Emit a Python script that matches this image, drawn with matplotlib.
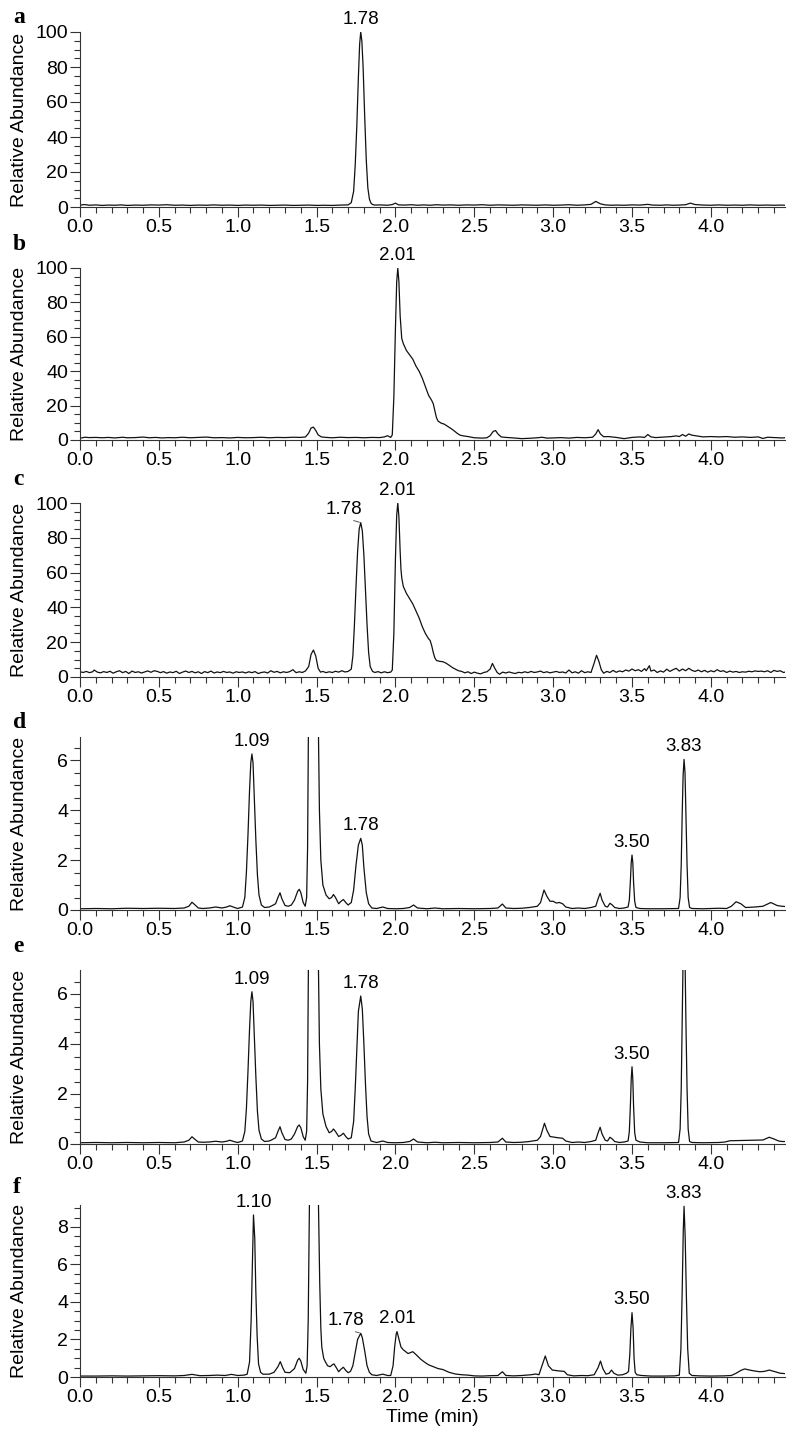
import matplotlib
matplotlib.use("Agg")
import matplotlib.pyplot as plt
from matplotlib.ticker import MultipleLocator, FormatStrFormatter

plt.rcParams['font.family'] = ['Liberation Sans', 'DejaVu Sans']

# ---------------- data (time in min, relative abundance) ----------------
PANEL_LETTERS = ['a', 'b', 'c', 'd', 'e', 'f']

A_PTS = [(0.00,1.1),(0.03,1.4),(0.06,1.0),(0.10,1.2),(0.14,0.9),(0.18,1.1),(0.22,1.0),(0.26,1.2),
         (0.30,0.9),(0.35,1.1),(0.40,1.0),(0.45,1.2),(0.50,1.1),(0.55,1.3),(0.60,1.0),(0.65,1.1),
         (0.70,0.9),(0.75,1.1),(0.80,1.0),(0.85,1.2),(0.90,1.0),(0.95,1.1),(1.00,0.9),(1.05,1.1),
         (1.10,1.0),(1.15,1.1),(1.20,0.9),(1.25,1.0),(1.30,1.1),(1.35,0.9),(1.40,1.0),(1.45,1.1),
         (1.50,0.9),(1.55,1.0),(1.60,0.9),(1.65,1.1),(1.70,1.2),(1.72,2.5),(1.735,9),(1.745,24),
         (1.755,46),(1.765,74),(1.773,93),(1.78,100),(1.787,95),(1.795,80),(1.805,52),(1.815,27),
         (1.825,11),(1.835,4.5),(1.845,2.2),(1.855,1.4),(1.87,1.1),(1.90,1.2),(1.95,1.0),(1.98,1.4),
         (2.00,2.2),(2.02,1.2),(2.06,1.1),(2.10,1.3),(2.14,1.0),(2.18,1.2),(2.22,1.0),(2.26,1.3),
         (2.30,1.1),(2.35,1.2),(2.40,1.0),(2.45,1.2),(2.50,1.1),(2.55,1.3),(2.60,1.0),(2.65,1.2),
         (2.70,1.1),(2.75,1.0),(2.80,1.2),(2.85,1.1),(2.90,1.0),(2.95,1.2),(3.00,1.0),(3.05,1.1),
         (3.10,1.3),(3.15,1.0),(3.20,1.2),(3.24,1.5),(3.27,3.2),(3.30,1.8),(3.33,1.2),(3.37,1.0),
         (3.40,1.1),(3.45,1.0),(3.50,1.2),(3.55,1.1),(3.60,1.5),(3.63,1.1),(3.68,1.0),(3.72,1.2),
         (3.76,1.0),(3.80,1.1),(3.84,1.3),(3.87,2.2),(3.90,1.4),(3.95,1.1),(4.00,1.0),(4.05,1.2),
         (4.10,1.0),(4.15,1.1),(4.20,1.0),(4.25,1.2),(4.30,1.0),(4.35,1.1),(4.40,1.0),(4.45,1.1),
         (4.47,1.0)]

B_PTS = [(0.00,1.0),(0.03,1.6),(0.06,1.4),(0.10,1.5),(0.14,1.3),(0.18,1.5),(0.22,1.2),(0.27,1.6),
         (0.30,1.3),(0.35,1.4),(0.40,1.7),(0.44,1.3),(0.48,1.5),(0.52,1.2),(0.56,1.4),(0.60,1.3),
         (0.65,1.6),(0.70,1.3),(0.75,1.5),(0.80,1.7),(0.85,1.3),(0.90,1.4),(0.95,1.2),(1.00,1.5),
         (1.05,1.3),(1.10,1.4),(1.15,1.6),(1.20,1.3),(1.25,1.5),(1.30,1.4),(1.35,1.6),(1.40,1.5),
         (1.43,1.8),(1.45,4.0),(1.465,7.0),(1.48,7.5),(1.495,5.5),(1.51,3.0),(1.53,1.8),(1.56,1.5),
         (1.60,1.3),(1.65,1.6),(1.70,1.4),(1.75,1.5),(1.80,1.3),(1.85,1.5),(1.90,1.4),(1.93,1.8),
         (1.95,2.5),(1.97,1.5),(1.98,3.0),(1.99,25),(2.00,65),(2.008,92),(2.015,100),(2.022,92),
         (2.03,72),(2.04,59),(2.05,56),(2.07,52),(2.09,49.5),(2.11,47),(2.13,43),(2.15,40),
         (2.17,36),(2.19,31),(2.21,26),(2.23,23),(2.24,21),(2.25,17),(2.26,13),(2.27,11),
         (2.29,9.8),(2.31,9.2),(2.33,8.0),(2.35,6.8),(2.37,5.5),(2.39,4.0),(2.41,2.8),(2.43,2.4),
         (2.46,2.0),(2.50,1.3),(2.55,1.1),(2.58,1.3),(2.60,2.5),(2.62,5.0),(2.635,5.5),(2.65,3.5),
         (2.67,1.8),(2.70,1.5),(2.75,1.2),(2.80,0.8),(2.85,1.0),(2.90,1.3),(2.93,1.6),(2.96,1.1),
         (3.00,1.2),(3.05,1.4),(3.10,1.1),(3.15,1.5),(3.20,1.3),(3.25,1.6),(3.27,3.5),(3.285,6.0),
         (3.30,3.5),(3.32,1.9),(3.35,2.0),(3.40,1.5),(3.45,0.8),(3.50,1.5),(3.55,1.8),(3.58,1.5),
         (3.60,3.2),(3.62,1.8),(3.65,1.4),(3.70,1.7),(3.75,2.0),(3.78,2.4),(3.80,2.0),(3.82,3.2),
         (3.84,2.2),(3.86,3.5),(3.88,2.8),(3.92,2.2),(3.95,1.8),(4.00,2.0),(4.05,1.8),(4.10,2.0),
         (4.15,1.6),(4.20,1.8),(4.25,1.5),(4.30,1.8),(4.33,0.9),(4.36,1.6),(4.40,1.4),(4.45,1.2),
         (4.47,1.3)]

C_PTS = [(0.00,3.0),(0.02,2.6),(0.04,3.2),(0.06,2.5),(0.08,3.0),(0.09,4.0),(0.11,2.8),(0.13,2.4),
         (0.15,3.1),(0.17,2.6),(0.19,3.3),(0.21,2.2),(0.23,3.0),(0.25,3.6),(0.27,2.5),(0.29,3.2),
         (0.31,2.0),(0.33,3.4),(0.35,2.6),(0.37,3.0),(0.39,2.3),(0.41,2.9),(0.43,3.5),(0.45,2.7),
         (0.47,3.6),(0.49,3.2),(0.51,2.5),(0.53,3.1),(0.55,2.2),(0.57,2.9),(0.59,2.5),(0.61,3.3),
         (0.63,2.0),(0.65,2.8),(0.67,3.4),(0.69,2.6),(0.71,3.2),(0.73,2.4),(0.75,3.0),(0.77,2.0),
         (0.79,3.1),(0.81,2.5),(0.83,3.4),(0.85,2.3),(0.87,2.9),(0.89,2.5),(0.91,3.2),(0.93,2.6),
         (0.95,2.9),(0.97,2.2),(0.99,3.0),(1.01,2.6),(1.03,2.9),(1.05,2.3),(1.07,3.0),(1.09,2.5),
         (1.11,3.1),(1.13,2.0),(1.15,2.6),(1.17,2.9),(1.19,2.3),(1.21,3.6),(1.23,2.7),(1.25,3.2),
         (1.27,2.4),(1.29,3.0),(1.31,2.6),(1.33,3.1),(1.35,4.2),(1.37,2.5),(1.39,3.0),(1.41,2.6),
         (1.43,3.5),(1.45,6.0),(1.465,13),(1.48,15.5),(1.495,12),(1.51,5.0),(1.525,2.8),(1.54,3.2),
         (1.56,2.5),(1.58,3.0),(1.60,2.6),(1.62,3.3),(1.64,2.8),(1.66,3.6),(1.68,2.9),(1.70,3.2),
         (1.72,4.5),(1.73,12),(1.74,30),(1.75,52),(1.76,72),(1.77,85),(1.78,88.7),(1.79,84),
         (1.80,70),(1.81,50),(1.82,30),(1.83,14),(1.84,6),(1.855,3.2),(1.87,2.6),(1.89,3.1),
         (1.91,2.4),(1.93,3.0),(1.95,2.5),(1.97,2.8),(1.98,4.0),(1.99,25),(2.00,68),(2.008,93),
         (2.015,100),(2.022,92),(2.03,72),(2.035,62),(2.04,57),(2.05,52),(2.07,48),(2.09,45),
         (2.11,42),(2.13,38),(2.15,34),(2.17,29),(2.19,25),(2.21,22),(2.22,21),(2.23,18),
         (2.24,14),(2.25,11),(2.26,9.5),(2.28,9.0),(2.30,8.8),(2.32,8.0),(2.34,6.8),(2.36,5.5),
         (2.38,4.5),(2.40,3.6),(2.42,3.2),(2.44,2.4),(2.46,3.0),(2.48,2.0),(2.50,2.8),(2.52,2.2),
         (2.54,1.8),(2.56,2.6),(2.58,3.0),(2.60,4.5),(2.615,7.8),(2.63,5.0),(2.645,2.6),(2.66,1.6),
         (2.68,2.8),(2.70,2.3),(2.72,2.9),(2.74,2.4),(2.76,2.0),(2.78,2.7),(2.80,2.4),(2.82,3.0),
         (2.84,2.5),(2.86,3.2),(2.88,2.6),(2.90,2.9),(2.92,3.4),(2.94,2.5),(2.96,3.0),(2.98,2.4),
         (3.00,2.8),(3.02,3.2),(3.04,2.6),(3.06,2.9),(3.08,2.3),(3.10,4.0),(3.12,2.4),(3.14,3.0),
         (3.16,2.2),(3.18,3.6),(3.20,2.5),(3.22,3.0),(3.24,2.6),(3.26,8.0),(3.275,12.5),(3.29,9.0),
         (3.305,4.2),(3.32,2.2),(3.34,3.2),(3.36,2.6),(3.38,3.8),(3.40,2.7),(3.42,3.5),(3.44,3.0),
         (3.46,4.0),(3.48,3.4),(3.50,4.6),(3.52,3.6),(3.54,4.2),(3.56,3.2),(3.58,4.8),(3.59,3.6),
         (3.61,6.5),(3.62,3.4),(3.64,4.0),(3.66,2.6),(3.68,3.5),(3.70,2.8),(3.72,4.5),(3.74,3.2),
         (3.76,4.2),(3.78,5.0),(3.80,3.4),(3.82,4.6),(3.84,3.6),(3.86,5.0),(3.88,3.8),(3.90,3.2),
         (3.92,4.0),(3.94,3.0),(3.96,3.8),(3.98,2.8),(4.00,3.6),(4.02,3.0),(4.04,4.2),(4.06,3.2),
         (4.08,3.6),(4.10,2.6),(4.12,3.4),(4.14,2.8),(4.16,3.2),(4.18,2.6),(4.20,3.0),(4.22,2.8),
         (4.24,3.3),(4.26,3.0),(4.28,3.5),(4.30,3.2),(4.32,3.4),(4.34,3.0),(4.36,3.6),(4.38,2.6),
         (4.40,3.8),(4.42,3.2),(4.44,3.6),(4.46,2.6),(4.47,2.8)]

D_PTS = [(0.00,0.05),(0.10,0.06),(0.20,0.05),(0.30,0.07),(0.40,0.06),(0.50,0.07),(0.60,0.06),
         (0.66,0.08),(0.69,0.15),(0.71,0.31),(0.73,0.20),(0.75,0.08),(0.78,0.06),(0.82,0.08),
         (0.86,0.12),(0.90,0.08),(0.93,0.12),(0.95,0.17),(0.98,0.10),(1.00,0.06),(1.03,0.12),
         (1.045,0.5),(1.055,1.5),(1.065,3.0),(1.075,4.8),(1.083,5.9),(1.09,6.25),(1.097,5.9),
         (1.105,4.5),(1.115,2.8),(1.125,1.4),(1.135,0.6),(1.15,0.2),(1.17,0.1),(1.20,0.12),
         (1.22,0.18),(1.24,0.25),(1.255,0.5),(1.268,0.69),(1.28,0.45),(1.30,0.18),(1.32,0.15),
         (1.34,0.2),(1.36,0.4),(1.38,0.75),(1.39,0.83),(1.40,0.7),(1.415,0.3),(1.428,0.15),
         (1.437,0.5),(1.443,2.5),(1.448,7.0),(1.46,30),(1.475,45),(1.49,35),(1.505,12),
         (1.512,7.0),(1.518,4.0),(1.527,2.0),(1.54,1.0),(1.56,0.6),(1.58,0.45),(1.595,0.5),
         (1.607,0.62),(1.62,0.5),(1.64,0.25),(1.655,0.35),(1.67,0.42),(1.685,0.3),(1.70,0.2),
         (1.72,0.3),(1.735,0.8),(1.75,1.8),(1.765,2.6),(1.78,2.87),(1.79,2.6),(1.80,1.7),
         (1.815,0.7),(1.83,0.25),(1.85,0.08),(1.88,0.06),(1.92,0.12),(1.95,0.06),(2.00,0.05),
         (2.05,0.06),(2.09,0.10),(2.115,0.2),(2.14,0.08),(2.20,0.05),(2.25,0.08),(2.30,0.05),
         (2.40,0.06),(2.50,0.05),(2.60,0.06),(2.65,0.08),(2.678,0.24),(2.70,0.08),(2.75,0.06),
         (2.80,0.07),(2.85,0.10),(2.90,0.15),(2.92,0.3),(2.942,0.8),(2.96,0.55),(2.98,0.35),
         (3.00,0.35),(3.02,0.28),(3.04,0.3),(3.06,0.25),(3.08,0.12),(3.12,0.06),(3.16,0.08),
         (3.20,0.06),(3.24,0.10),(3.27,0.15),(3.285,0.45),(3.298,0.67),(3.31,0.4),(3.33,0.15),
         (3.345,0.12),(3.36,0.27),(3.375,0.2),(3.39,0.1),(3.42,0.06),(3.45,0.08),(3.475,0.12),
         (3.483,0.4),(3.49,1.2),(3.495,1.9),(3.50,2.2),(3.505,1.9),(3.51,1.1),(3.517,0.35),
         (3.525,0.1),(3.55,0.06),(3.60,0.05),(3.70,0.05),(3.795,0.06),(3.805,0.5),(3.812,1.8),
         (3.818,3.8),(3.824,5.4),(3.83,6.03),(3.836,5.5),(3.842,3.8),(3.849,1.8),(3.856,0.5),
         (3.865,0.1),(3.88,0.06),(3.95,0.05),(4.05,0.07),(4.10,0.06),(4.13,0.15),(4.16,0.33),
         (4.19,0.25),(4.22,0.1),(4.28,0.12),(4.33,0.15),(4.38,0.3),(4.42,0.18),(4.45,0.15),
         (4.47,0.14)]

E_PTS = [(0.00,0.05),(0.10,0.06),(0.20,0.05),(0.30,0.06),(0.40,0.05),(0.50,0.06),(0.60,0.05),
         (0.66,0.08),(0.69,0.15),(0.71,0.29),(0.73,0.18),(0.75,0.08),(0.78,0.07),(0.82,0.08),
         (0.86,0.11),(0.90,0.08),(0.93,0.11),(0.95,0.15),(0.98,0.09),(1.00,0.06),(1.03,0.12),
         (1.045,0.5),(1.055,1.4),(1.065,2.9),(1.075,4.6),(1.083,5.7),(1.09,6.09),(1.097,5.7),
         (1.105,4.4),(1.115,2.7),(1.125,1.3),(1.135,0.55),(1.15,0.2),(1.17,0.1),(1.20,0.12),
         (1.22,0.18),(1.24,0.25),(1.255,0.5),(1.268,0.69),(1.28,0.45),(1.30,0.18),(1.32,0.15),
         (1.34,0.2),(1.36,0.4),(1.38,0.7),(1.39,0.76),(1.40,0.65),(1.415,0.3),(1.428,0.15),
         (1.437,0.5),(1.443,2.5),(1.448,7.0),(1.46,30),(1.475,45),(1.49,35),(1.505,12),
         (1.512,7.0),(1.518,4.0),(1.527,2.2),(1.54,1.2),(1.56,0.7),(1.58,0.45),(1.595,0.5),
         (1.607,0.6),(1.62,0.5),(1.64,0.3),(1.655,0.35),(1.67,0.43),(1.685,0.3),(1.70,0.2),
         (1.72,0.25),(1.735,0.9),(1.745,2.2),(1.755,3.8),(1.765,5.3),(1.78,5.92),(1.79,5.4),
         (1.80,4.0),(1.81,2.4),(1.82,1.1),(1.83,0.4),(1.845,0.12),(1.88,0.06),(1.92,0.12),
         (1.95,0.06),(2.00,0.05),(2.05,0.06),(2.09,0.1),(2.115,0.2),(2.14,0.08),(2.20,0.05),
         (2.25,0.07),(2.30,0.05),(2.40,0.06),(2.50,0.05),(2.60,0.06),(2.65,0.08),(2.678,0.23),
         (2.70,0.08),(2.75,0.06),(2.80,0.07),(2.85,0.10),(2.90,0.15),(2.92,0.3),(2.945,0.83),
         (2.96,0.55),(2.98,0.3),(3.00,0.28),(3.03,0.25),(3.06,0.23),(3.08,0.12),(3.12,0.06),
         (3.16,0.08),(3.20,0.06),(3.24,0.10),(3.27,0.15),(3.285,0.45),(3.298,0.67),(3.31,0.4),
         (3.33,0.15),(3.345,0.12),(3.36,0.27),(3.375,0.2),(3.39,0.1),(3.42,0.06),(3.45,0.08),
         (3.475,0.12),(3.483,0.5),(3.49,1.6),(3.495,2.6),(3.50,3.09),(3.505,2.6),(3.51,1.5),
         (3.517,0.45),(3.525,0.15),(3.55,0.08),(3.60,0.05),(3.70,0.05),(3.795,0.06),(3.805,0.6),
         (3.812,2.2),(3.818,4.8),(3.824,7.5),(3.83,8.5),(3.836,7.5),(3.842,4.8),(3.849,2.2),
         (3.856,0.6),(3.865,0.1),(3.88,0.06),(3.95,0.05),(4.05,0.06),(4.09,0.08),(4.12,0.13),
         (4.20,0.14),(4.28,0.15),(4.33,0.16),(4.37,0.27),(4.40,0.2),(4.43,0.12),(4.45,0.1),
         (4.47,0.1)]

F_PTS = [(0.00,0.05),(0.10,0.05),(0.20,0.06),(0.30,0.05),(0.40,0.06),(0.50,0.07),(0.60,0.06),
         (0.66,0.08),(0.71,0.14),(0.76,0.07),(0.82,0.08),(0.87,0.1),(0.92,0.08),(0.96,0.14),
         (1.00,0.08),(1.04,0.1),(1.06,0.15),(1.075,0.8),(1.085,3.0),(1.093,6.0),(1.10,8.64),
         (1.108,7.4),(1.115,4.5),(1.123,2.2),(1.132,0.7),(1.145,0.25),(1.16,0.15),(1.20,0.15),
         (1.23,0.25),(1.255,0.55),(1.27,0.82),(1.285,0.5),(1.30,0.25),(1.33,0.23),(1.36,0.45),
         (1.38,0.9),(1.39,1.0),(1.40,0.85),(1.415,0.4),(1.432,0.2),(1.44,0.6),(1.447,3.0),
         (1.455,9.5),(1.47,40),(1.48,55),(1.49,40),(1.505,14),(1.512,9.2),(1.52,5.0),
         (1.527,2.6),(1.533,1.6),(1.545,1.0),(1.555,0.82),(1.57,0.6),(1.586,0.55),(1.60,0.65),
         (1.61,0.7),(1.625,0.5),(1.64,0.28),(1.655,0.42),(1.67,0.52),(1.685,0.35),(1.70,0.23),
         (1.715,0.3),(1.73,0.6),(1.745,1.3),(1.76,2.0),(1.78,2.33),(1.79,2.1),(1.805,1.4),
         (1.82,0.6),(1.835,0.25),(1.85,0.12),(1.88,0.08),(1.92,0.15),(1.95,0.08),(1.97,0.08),
         (1.985,0.6),(1.995,1.6),(2.005,2.3),(2.01,2.42),(2.02,2.1),(2.035,1.6),(2.05,1.45),
         (2.08,1.25),(2.11,1.35),(2.13,1.2),(2.16,0.95),(2.18,0.82),(2.21,0.65),(2.24,0.55),
         (2.27,0.45),(2.30,0.4),(2.34,0.25),(2.38,0.16),(2.42,0.12),(2.46,0.1),(2.50,0.06),
         (2.55,0.05),(2.60,0.07),(2.65,0.08),(2.678,0.28),(2.70,0.08),(2.75,0.06),(2.80,0.08),
         (2.86,0.12),(2.89,0.16),(2.91,0.12),(2.925,0.5),(2.95,1.12),(2.97,0.6),(2.995,0.37),
         (3.03,0.33),(3.07,0.3),(3.09,0.12),(3.13,0.06),(3.18,0.08),(3.22,0.07),(3.26,0.12),
         (3.285,0.5),(3.30,0.85),(3.315,0.45),(3.335,0.15),(3.355,0.2),(3.37,0.37),(3.385,0.2),
         (3.41,0.1),(3.44,0.12),(3.465,0.2),(3.478,0.3),(3.486,1.2),(3.493,2.6),(3.50,3.43),
         (3.507,2.6),(3.513,1.0),(3.52,0.25),(3.53,0.12),(3.56,0.08),(3.62,0.05),(3.70,0.05),
         (3.77,0.06),(3.80,0.1),(3.81,1.5),(3.818,4.5),(3.825,7.8),(3.83,9.1),(3.837,7.5),
         (3.845,4.2),(3.853,1.5),(3.863,0.2),(3.88,0.08),(3.93,0.06),(4.00,0.05),(4.08,0.06),
         (4.13,0.08),(4.16,0.2),(4.19,0.35),(4.214,0.43),(4.24,0.38),(4.27,0.33),(4.31,0.28),
         (4.34,0.3),(4.37,0.37),(4.40,0.3),(4.42,0.25),(4.44,0.2),(4.47,0.18)]

PANEL_DATA = [A_PTS, B_PTS, C_PTS, D_PTS, E_PTS, F_PTS]
Y_LIMITS = [100, 100, 100, 6.93, 6.96, 9.17]
Y_MAJOR = [20, 20, 20, 2, 2, 2]
Y_MINOR = [5, 5, 5, 0.5, 0.5, 0.5]

# peak labels: (text, peak time, peak height, text time, text height or None)
A_LABELS = [("1.78", 1.78, 100, None, None)]
B_LABELS = [("2.01", 2.015, 100, None, None)]
C_LABELS = [("1.78", 1.78, 88.7, 1.675, 91.5), ("2.01", 2.015, 100, None, None)]
D_LABELS = [("1.09", 1.09, 6.25, None, None), ("1.78", 1.78, 2.87, None, None),
            ("3.50", 3.50, 2.2, None, None), ("3.83", 3.83, 6.03, None, None)]
E_LABELS = [("1.09", 1.09, 6.09, None, None), ("1.78", 1.78, 5.92, None, None),
            ("3.50", 3.50, 3.09, None, None)]
F_LABELS = [("1.10", 1.10, 8.64, None, None), ("1.78", 1.78, 2.33, 1.685, 2.56),
            ("2.01", 2.01, 2.42, None, None), ("3.50", 3.50, 3.43, None, None),
            ("3.83", 3.83, 9.1, None, None)]
PANEL_LABELS = [A_LABELS, B_LABELS, C_LABELS, D_LABELS, E_LABELS, F_LABELS]

# ---------------- layout (pixels) ----------------
W, H = 787, 1435
AX_LEFT, AX_RIGHT = 80, 785
AX_TOPS = [32, 268, 503, 737, 970, 1205]
AX_BOTS = [207, 440, 677, 910, 1144, 1377]
LETTER_BASE = [23, 250, 485, 728, 952, 1193]
X_MAX = 4.47

fig = plt.figure(figsize=(W / 100, H / 100), dpi=100)
LINE_COL = '#111111'
AX_COL = '#333333'

for i in range(6):
    top, bot = AX_TOPS[i], AX_BOTS[i]
    ax = fig.add_axes([AX_LEFT / W, 1 - bot / H, (AX_RIGHT - AX_LEFT) / W, (bot - top) / H])
    pts = PANEL_DATA[i]
    ts = [p[0] for p in pts]
    ys = [p[1] for p in pts]
    ax.plot(ts, ys, color=LINE_COL, lw=0.9)
    ax.set_xlim(0, X_MAX)
    ax.set_ylim(0, Y_LIMITS[i])
    for s in ['top', 'right']:
        ax.spines[s].set_visible(False)
    for s in ['left', 'bottom']:
        ax.spines[s].set_color(AX_COL)
        ax.spines[s].set_linewidth(0.8)
    ax.xaxis.set_major_locator(MultipleLocator(0.5))
    ax.xaxis.set_minor_locator(MultipleLocator(0.1))
    ax.xaxis.set_major_formatter(FormatStrFormatter('%.1f'))
    ax.yaxis.set_major_locator(MultipleLocator(Y_MAJOR[i]))
    ax.yaxis.set_minor_locator(MultipleLocator(Y_MINOR[i]))
    ax.yaxis.set_major_formatter(FormatStrFormatter('%d'))
    ax.tick_params(axis='both', which='major', direction='out', length=7, width=0.8,
                   color=AX_COL, labelsize=14, pad=1.5)
    ax.tick_params(axis='both', which='minor', direction='out', length=4.5, width=0.8,
                   color=AX_COL)
    ax.set_ylabel('Relative Abundance', fontsize=14)
    ax.yaxis.set_label_coords(-0.074, 0.5)

    for (txt, pt, ph, tt, th) in PANEL_LABELS[i]:
        if tt is None:
            ax.annotate(txt, xy=(pt, ph), xytext=(0, 3), textcoords='offset points',
                        ha='center', va='bottom', fontsize=13.5, annotation_clip=False)
        else:
            ax.annotate(txt, xy=(pt, ph), xytext=(tt, th), textcoords='data',
                        ha='center', va='bottom', fontsize=13.5, annotation_clip=False,
                        arrowprops=dict(arrowstyle='-', color='#555555', lw=0.7,
                                        relpos=(0.5, 0.0), shrinkA=0, shrinkB=1))

    fig.text(13 / W, 1 - LETTER_BASE[i] / H, PANEL_LETTERS[i], fontsize=17,
             fontweight='bold', family=['Liberation Serif', 'DejaVu Serif'],
             ha='left', va='baseline')

    if i == 5:
        ax.set_xlabel('Time (min)', fontsize=14, labelpad=2)

fig.savefig('out.png', dpi=100)
